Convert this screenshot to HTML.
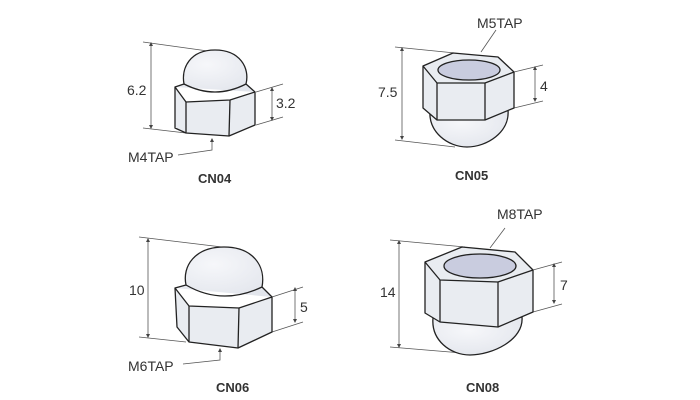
<!DOCTYPE html>
<html><head><meta charset="utf-8"><style>
html,body{margin:0;padding:0;background:#fff;}
svg{display:block;}
text{font-family:"Liberation Sans",sans-serif;fill:#333;}
</style></head><body>
<svg width="700" height="400" viewBox="0 0 700 400" xmlns="http://www.w3.org/2000/svg">
<defs>
<radialGradient id="dome" cx="0.4" cy="0.35" r="0.75"><stop offset="0" stop-color="#f6f7fa"/><stop offset="1" stop-color="#e2e5ec"/></radialGradient>
<marker id="ar" viewBox="0 0 6 6" refX="3" refY="3" markerWidth="5" markerHeight="5" orient="auto-start-reverse"><path d="M0,0 L6,3 L0,6 z" fill="#444"/></marker>
</defs>
<g stroke="#555" stroke-width="0.8" fill="none">
<line x1="143" y1="42" x2="215" y2="52"/><line x1="143" y1="128" x2="186" y2="133"/>
<line x1="151" y1="44" x2="151" y2="127" marker-start="url(#ar)" marker-end="url(#ar)"/>
<line x1="256" y1="92" x2="283" y2="84"/><line x1="256" y1="125" x2="283" y2="117"/>
<line x1="272" y1="89" x2="272" y2="119" marker-start="url(#ar)" marker-end="url(#ar)"/>
<polyline points="178,155 212,150 212,140" marker-end="url(#ar)"/>
<line x1="395" y1="47" x2="455" y2="53"/><line x1="395" y1="140" x2="455" y2="147"/>
<line x1="402" y1="49" x2="402" y2="138" marker-start="url(#ar)" marker-end="url(#ar)"/>
<line x1="514" y1="72" x2="543" y2="65"/><line x1="514" y1="108" x2="543" y2="101"/>
<line x1="535" y1="68" x2="535" y2="100" marker-start="url(#ar)" marker-end="url(#ar)"/>
<line x1="496" y1="30" x2="481" y2="52"/>
<line x1="139" y1="237" x2="222" y2="247"/><line x1="139" y1="337" x2="186" y2="342"/>
<line x1="148" y1="240" x2="148" y2="336" marker-start="url(#ar)" marker-end="url(#ar)"/>
<line x1="272" y1="297" x2="303" y2="287"/><line x1="272" y1="332" x2="303" y2="322"/>
<line x1="295" y1="289" x2="295" y2="321" marker-start="url(#ar)" marker-end="url(#ar)"/>
<polyline points="183,364 220,360 220,350" marker-end="url(#ar)"/>
<line x1="390" y1="240" x2="465" y2="247"/><line x1="390" y1="347" x2="462" y2="353"/>
<line x1="399" y1="242" x2="399" y2="346" marker-start="url(#ar)" marker-end="url(#ar)"/>
<line x1="533" y1="270" x2="562" y2="262"/><line x1="533" y1="312" x2="562" y2="304"/>
<line x1="554" y1="265" x2="554" y2="302" marker-start="url(#ar)" marker-end="url(#ar)"/>
<line x1="505" y1="228" x2="490" y2="248"/>
</g>
<g stroke="#222" stroke-width="1.3" stroke-linejoin="round">
<!-- CN04 -->
<polygon points="175,87 186,102 230,100 255,92 255,125 229,136 186,133 175,128" fill="#e9ecf1"/>
<line x1="186" y1="102" x2="186" y2="133"/><line x1="230" y1="100" x2="229" y2="136"/>
<path d="M175,87 L184,84 C181,68 190,50 215,50 C240,50 250,68 246,84 L255,92" fill="url(#dome)"/>
<path d="M184,84 Q215,100 246,84" fill="none"/>
<!-- CN05 -->
<path d="M430,110 C428,132 448,147 467,147 C487,147 510,132 508,110 Z" fill="url(#dome)"/>
<polygon points="423,66 453,53 498,57 514,72 514,108 485,120 437,120 423,108" fill="#e9ecf1"/>
<polyline points="423,66 437,83 485,83 514,72" fill="none"/>
<line x1="437" y1="83" x2="437" y2="120"/><line x1="485" y1="83" x2="485" y2="120"/>
<ellipse cx="469" cy="70" rx="31" ry="10" fill="#c9ccdf"/>
<!-- CN06 -->
<polygon points="175,288 189,306 239,308 272,297 272,332 238,348 189,342 177,327" fill="#e9ecf1"/>
<line x1="189" y1="306" x2="189" y2="342"/><line x1="239" y1="308" x2="238" y2="348"/>
<path d="M175,288 L186,285 C182,266 195,247 224,247 C253,247 266,266 262,287 L272,297" fill="url(#dome)"/>
<path d="M186,285 Q222,306 262,287" fill="none"/>
<!-- CN08 -->
<path d="M433,318 C431,340 450,355 470,355 C492,355 524,340 522,317 Z" fill="url(#dome)"/>
<polygon points="425,262 462,247 515,252 533,270 533,312 498,327 440,322 425,313" fill="#e9ecf1"/>
<polyline points="425,262 440,280 498,282 533,270" fill="none"/>
<line x1="440" y1="280" x2="440" y2="322"/><line x1="498" y1="282" x2="498" y2="327"/>
<ellipse cx="480" cy="266" rx="36" ry="12" fill="#c9ccdf"/>
</g>
<g font-size="14">
<text x="127" y="95">6.2</text>
<text x="276" y="108">3.2</text>
<text x="128" y="162">M4TAP</text>
<text x="378" y="97">7.5</text>
<text x="540" y="91">4</text>
<text x="477" y="28">M5TAP</text>
<text x="129" y="295">10</text>
<text x="300" y="312">5</text>
<text x="128" y="371">M6TAP</text>
<text x="380" y="297">14</text>
<text x="560" y="290">7</text>
<text x="497" y="219">M8TAP</text>
</g>
<g font-size="13" font-weight="bold">
<text x="198" y="183">CN04</text>
<text x="455" y="180">CN05</text>
<text x="216" y="392">CN06</text>
<text x="466" y="392">CN08</text>
</g>
</svg>
</body></html>
